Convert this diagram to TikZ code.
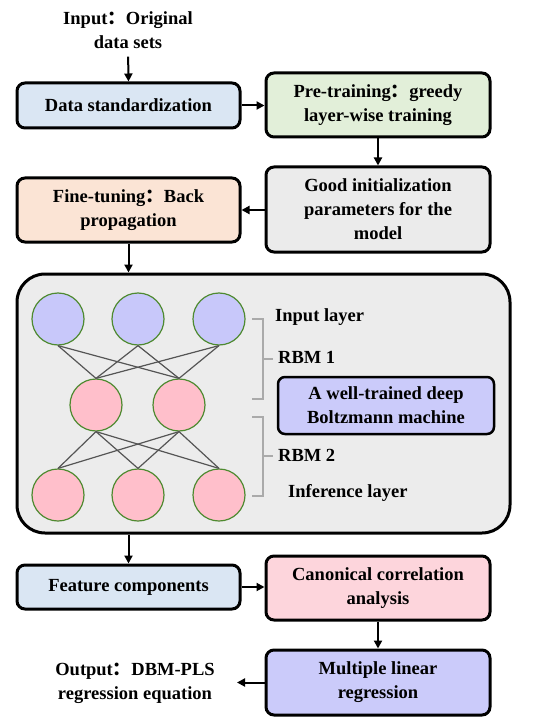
\documentclass[tikz,border=0pt]{standalone}
\usepackage{fontspec}
\setmainfont{Liberation Serif}
\newfontfamily\cjk{Noto Sans CJK SC}
\usetikzlibrary{arrows.meta}
\definecolor{blueL}{HTML}{DAE6F3}
\definecolor{greenL}{HTML}{E2EFD9}
\definecolor{grayL}{HTML}{EBEBEB}
\definecolor{peachL}{HTML}{FBE4D5}
\definecolor{pinkL}{HTML}{FDD5DC}
\definecolor{purpL}{HTML}{CBCBFA}
\definecolor{bigfill}{HTML}{ECECEC}
\definecolor{cblue}{HTML}{C8C8FA}
\definecolor{cpink}{HTML}{FFBFCB}
\definecolor{cgreen}{HTML}{4E8A30}
\definecolor{linkgray}{HTML}{555555}
\definecolor{brgray}{HTML}{AAAAAA}
\newcommand{\fc}{{\cjk ：}}
\tikzset{
  txt/.style={font=\fontsize{18.5}{24}\selectfont\bfseries, align=center},
  box/.style={txt, draw=black, line width=3pt, rounded corners=8pt, inner sep=0pt},
  arr/.style={line width=2pt, -{Triangle[length=8pt,width=8pt]}},
  unit/.style={circle, draw=cgreen, line width=1.2pt, minimum size=52pt, inner sep=0pt},
  link/.style={draw=linkgray, line width=1.2pt},
  brk/.style={draw=brgray, line width=1.2pt},
  lbl/.style={font=\fontsize{18.5}{24}\selectfont\bfseries, anchor=west, inner sep=0pt},
}
\begin{document}
\begin{tikzpicture}[x=1pt,y=-1pt]
\useasboundingbox[fill=white] (0,0) rectangle (554,727);
% text and boxes
\node[txt, inner sep=0pt] (inp) at (128,30) {Input\fc Original\\data sets};
\node[box, fill=blueL, minimum width=223pt, minimum height=45pt] (ds) at (128.5,105.5) {Data standardization};
\node[box, fill=greenL, minimum width=224pt, minimum height=64pt] (pre) at (378,105) {Pre-training\fc greedy\\layer-wise training};
\node[box, fill=grayL, minimum width=224pt, minimum height=85pt] (good) at (378,209.5) {Good initialization\\parameters for the\\model};
\node[box, fill=peachL, minimum width=223pt, minimum height=64pt] (fine) at (128.5,210) {Fine-tuning\fc Back\\propagation};
\node[draw=black, line width=3pt, rounded corners=28pt, fill=bigfill, minimum width=493pt, minimum height=259pt, inner sep=0pt] (big) at (263.5,403.5) {};
\node[box, fill=blueL, minimum width=223pt, minimum height=44pt] (feat) at (128.5,587) {Feature components};
\node[box, fill=pinkL, minimum width=224pt, minimum height=64pt] (cca) at (378,588) {Canonical correlation\\analysis};
\node[box, fill=purpL, minimum width=224pt, minimum height=65pt] (mlr) at (378,682.5) {Multiple linear\\regression};
\node[txt, inner sep=0pt] (out) at (135,683) {Output\fc DBM-PLS\\regression equation};
\coordinate (outarr) at (237,682.5);
% network
\node[unit, fill=cblue] (t1) at (58,319) {};
\node[unit, fill=cblue] (t2) at (138,319) {};
\node[unit, fill=cblue] (t3) at (219,319) {};
\node[unit, fill=cpink] (m1) at (96,405) {};
\node[unit, fill=cpink] (m2) at (179,405) {};
\node[unit, fill=cpink] (b1) at (58,495) {};
\node[unit, fill=cpink] (b2) at (138,495) {};
\node[unit, fill=cpink] (b3) at (219,495) {};
\foreach \t in {t1,t2,t3}{\foreach \m in {m1,m2}{\draw[link] (\t.south) -- (\m.north);}}
\foreach \b in {b1,b2,b3}{\foreach \m in {m1,m2}{\draw[link] (\m.south) -- (\b.north);}}
% brackets
\draw[brk] (252,319) -- (263,319) -- (263,399) -- (252,399) (263,359) -- (273,359);
\draw[brk] (252,417) -- (263,417) -- (263,496) -- (252,496) (263,456) -- (273,456);
\node[lbl] (l1) at (275,317) {Input layer};
\node[lbl] (l2) at (278,357) {RBM 1};
\node[lbl] (l3) at (278,455) {RBM 2};
\node[lbl] (l4) at (288,493) {Inference layer};
\node[box, fill=purpL, line width=2.5pt, rounded corners=7pt, minimum width=216pt, minimum height=57pt] (dbm) at (386,405.5) {A well-trained deep\\Boltzmann machine};
% arrows
\draw[arr, shorten <=8pt] (inp.south) -- (ds.north);
\draw[arr] (ds.east) -- (pre.west |- ds.east);
\draw[arr] (pre.south) -- (good.north);
\draw[arr] (good.west |- fine.east) -- (fine.east);
\draw[arr] (fine.south) -- (fine.south |- big.north);
\draw[arr] (big.south -| feat.north) -- (feat.north);
\draw[arr] (feat.east) -- (cca.west |- feat.east);
\draw[arr] (cca.south) -- (mlr.north);
\draw[arr] (mlr.west) -- (outarr);
\end{tikzpicture}
\end{document}
